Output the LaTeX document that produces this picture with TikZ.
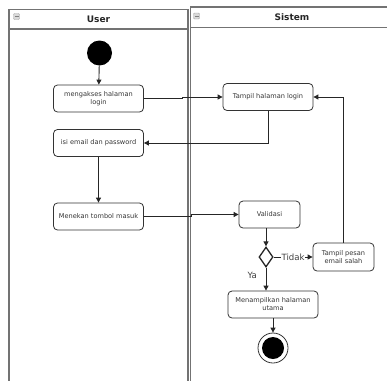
\documentclass[tikz,border=0pt]{standalone}
\usepackage{fontspec}
\setmainfont{DejaVu Sans}
\usetikzlibrary{arrows.meta,shapes.geometric}
\tikzset{>/.tip={Triangle[length=5pt,width=5pt]}}
\tikzset{
  lane/.style={draw=black!55, line width=1.4pt},
  lanetitle/.style={font=\fontsize{9}{10}\selectfont\bfseries, text=black!85},
  lanebtn/.style={draw=black!35, fill=black!15, rounded corners=1pt, minimum size=6pt, inner sep=0pt},
  act/.style={draw=black!80, line width=0.8pt, rounded corners=4pt, minimum width=90pt, minimum height=27pt,
    align=center, inner sep=1pt, font=\fontsize{6.6}{8}\selectfont, text=black!80},
  flow/.style={->, draw=black!85, line width=0.9pt},
  guard/.style={font=\fontsize{8.6}{10}\selectfont, text=black!75, fill=white, inner sep=0.6pt}
}

\begin{document}
\begin{tikzpicture}[x=1pt, y=-1pt]
\useasboundingbox (0,0) rectangle (387,380);
\clip (0,0) rectangle (387,380);

% swimlanes
\draw[lane] (9,384) |- (188,9.5) -- (188,384);
\draw[lane] (9,29) -- (188,29);
\draw[lane] (190.5,384) |- (392,7);
\draw[lane] (190.5,27.5) -- (392,27.5);
\node[lanebtn] (btn-user) at (16.5,16.5) {};
\draw[black!50, line width=1pt] (btn-user.west) ++(1.5pt,0) -- ++(4pt,0);
\node[lanebtn] (btn-sistem) at (196.5,16) {};
\draw[black!50, line width=1pt] (btn-sistem.west) ++(1.5pt,0) -- ++(4pt,0);
\node[lanetitle] (user) at (98.5,19) {User};
\node[lanetitle] (sistem) at (292,17) {Sistem};

% user lane
\node[circle, fill=black, minimum size=25pt, inner sep=0pt] (start) at (99.5,53) {};
\node[act] (akses) at (98.5,98.5) {mengakses halaman\\login};
\node[act] (isi) at (98.5,143) {isi email dan password};
\node[act] (tekan) at (98.5,216.5) {Menekan tombol masuk};

% sistem lane
\node[act] (tlogin) at (268,97) {Tampil halaman login};
\node[act, minimum width=61pt] (validasi) at (269.5,214.5) {Validasi};
\node[diamond, draw=black!85, line width=1.3pt, inner sep=0pt, minimum width=14pt, minimum height=20pt] (cek) at (266,257) {};
\node[act, minimum width=61pt, minimum height=28pt] (pesan) at (343.5,257) {Tampil pesan\\email salah};
\node[act] (utama) at (273,304.5) {Menampilkan halaman\\utama};
\node[circle, draw=black!80, line width=0.8pt, minimum size=30pt, inner sep=0pt] (end) at (273,348) {};
\node[circle, fill=black, minimum size=22pt, inner sep=0pt] (end-dot) at (end) {};

% flows
\draw[flow] (start) -- (akses);
\draw[flow] (akses.east) -- ++(39,0) |- (tlogin.west);
\draw[flow] (tlogin.south) |- (isi.east);
\draw[flow] (isi) -- (tekan);
\draw[flow] (tekan.east) -- ++(48,0) |- (validasi.west);
\draw[flow] (cek.north |- validasi.south) -- (cek.north);
\draw[flow] (cek.east) -- node[guard] (tidak) {Tidak} (pesan.west);
\draw[flow] (pesan.north) |- (tlogin.east);
\draw[flow] (cek.south) -- node[guard, pos=0.35, left=8pt] (ya) {Ya} (cek.south |- utama.north);
\draw[flow] (utama) -- (end);
\end{tikzpicture}
\end{document}
